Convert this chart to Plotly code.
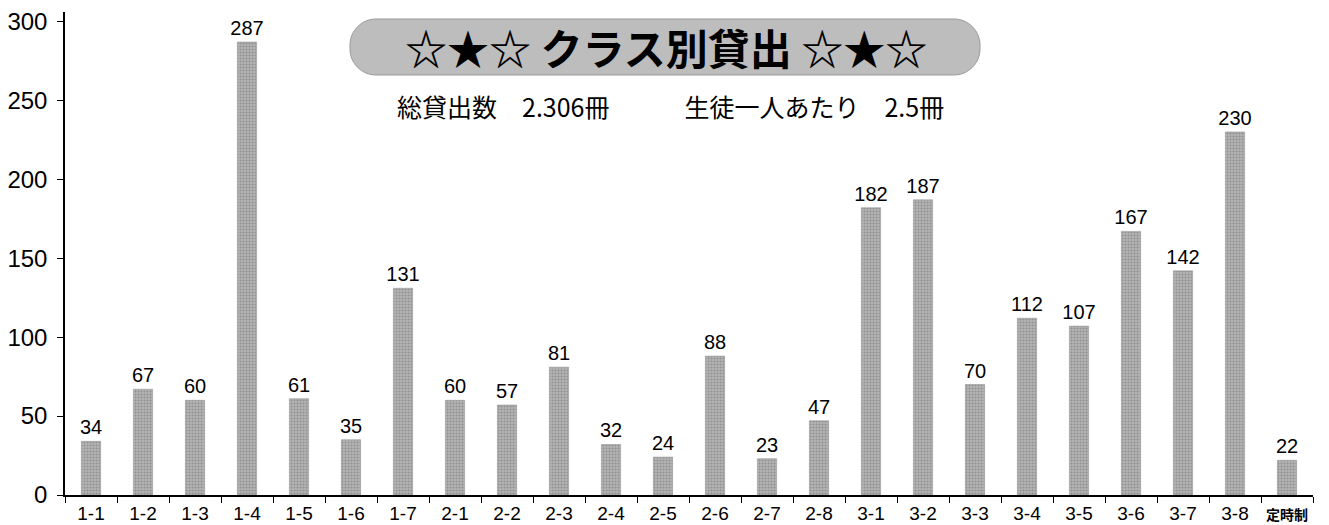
import plotly.graph_objects as go

categories = ["1-1", "1-2", "1-3", "1-4", "1-5", "1-6", "1-7",
              "2-1", "2-2", "2-3", "2-4", "2-5", "2-6", "2-7", "2-8",
              "3-1", "3-2", "3-3", "3-4", "3-5", "3-6", "3-7", "3-8", "定時制"]
loans = [34, 67, 60, 287, 61, 35, 131,
         60, 57, 81, 32, 24, 88, 23, 47,
         182, 187, 70, 112, 107, 167, 142, 230, 22]
y_ticks = [0, 50, 100, 150, 200, 250, 300]
title_text = "☆★☆ クラス別貸出 ☆★☆"
subtitle_text = "総貸出数　2.306冊　　　生徒一人あたり　2.5冊"

FONT = "Liberation Sans, Noto Sans CJK JP, sans-serif"
JP = "Noto Sans CJK JP, sans-serif"

OFF = 8  # page body margin
W, H = 1329 - OFF, 525 - OFF
ML, MR, MT, MB = 65 - OFF, 16, 12 - OFF, 30
PW, PH = W - ML - MR, H - MT - MB


def px_x(sx):
    return (sx - OFF - ML) / PW


def px_y(sy):
    return (H - MB - (sy - OFF)) / PH


# long (kanji) labels are drawn smaller and bold, as in the reference
tick_text = [c if c.isascii() else
             f"<span style='font-size:14px;font-family:Noto Sans CJK JP'><b>{c}</b></span>"
             for c in categories]

fig = go.Figure(go.Bar(
    x=categories, y=loans,
    text=[str(v) for v in loans], textposition="outside",
    constraintext="none",
    textfont=dict(size=20, color="black", family=FONT),
    marker=dict(color="#a3a3a3", line=dict(color="#8a8a8a", width=0.5),
                pattern=dict(shape=".", fgcolor="#6e6e6e", bgcolor="#b4b4b4",
                             size=3, solidity=0.4)),
    cliponaxis=False,
))

# rounded pill shape for title (pixel units relative to plot bottom-left)
bx0, bx1, by0, by1 = 350, 980, 19, 75
x0, x1 = bx0 - OFF - ML, bx1 - OFF - ML
y0, y1 = H - MB - (by1 - OFF), H - MB - (by0 - OFF)
r = 26
k = 0.55 * r
path = (f"M{x0 + r},{y0} L{x1 - r},{y0} "
        f"C{x1 - r + k},{y0} {x1},{y0 + r - k} {x1},{y0 + r} "
        f"L{x1},{y1 - r} "
        f"C{x1},{y1 - r + k} {x1 - r + k},{y1} {x1 - r},{y1} "
        f"L{x0 + r},{y1} "
        f"C{x0 + r - k},{y1} {x0},{y1 - r + k} {x0},{y1 - r} "
        f"L{x0},{y0 + r} "
        f"C{x0},{y0 + r - k} {x0 + r - k},{y0} {x0 + r},{y0} Z")

fig.update_layout(
    width=W, height=H,
    margin=dict(l=ML, r=MR, t=MT, b=MB),
    paper_bgcolor="white", plot_bgcolor="white",
    showlegend=False,
    bargap=0.63,
    xaxis=dict(
        type="category", showline=True, linecolor="black", linewidth=1.5,
        ticks="outside", tickson="boundaries", ticklen=6, tickcolor="black",
        tickangle=0, tickmode="array", tickvals=categories, ticktext=tick_text,
        tickfont=dict(size=19, color="black", family=FONT),
        ticklabeloverflow="allow",
        showgrid=False, zeroline=False, automargin=False,
    ),
    yaxis=dict(
        range=[0, 306], tickvals=y_ticks, showline=True, linecolor="black",
        linewidth=1.5, ticks="outside", ticklen=6, tickcolor="black",
        tickfont=dict(size=24, color="black", family=FONT),
        ticklabelstandoff=5, ticklabeloverflow="allow",
        showgrid=False, zeroline=False, automargin=False,
    ),
    shapes=[dict(
        type="path", xref="paper", yref="paper",
        xsizemode="pixel", ysizemode="pixel", xanchor=0, yanchor=0,
        path=path, fillcolor="#bdbdbd", line=dict(color="#9a9a9a", width=1),
        layer="below",
    )],
    annotations=[
        dict(text=f"<b>{title_text}</b>", xref="paper", yref="paper",
             x=px_x(666), y=px_y((by0 + by1) / 2),
             showarrow=False, xanchor="center", yanchor="middle",
             font=dict(size=42, color="black", family=JP)),
        dict(text=subtitle_text, xref="paper", yref="paper",
             x=px_x(670), y=px_y(106),
             showarrow=False, xanchor="center", yanchor="middle",
             font=dict(size=25, color="black", family=JP)),
    ],
)

fig.write_html("out.html")
